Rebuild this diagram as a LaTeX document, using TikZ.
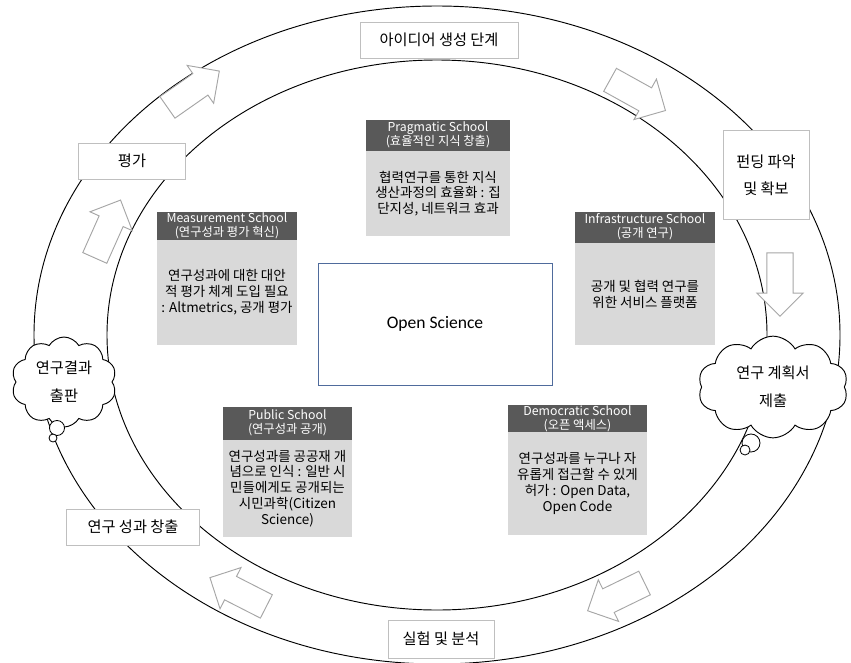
\documentclass[tikz,border=0pt]{standalone}
\usepackage{fontspec}
\setmainfont{Noto Sans CJK KR}
\newfontfamily\latinfont{Carlito}
\usetikzlibrary{positioning,shapes.symbols,shapes.arrows,shadows}

\definecolor{headgray}{HTML}{595959}
\definecolor{bodygray}{HTML}{D9D9D9}
\definecolor{boxline}{HTML}{BFBFBF}
\definecolor{osblue}{HTML}{4F6B9C}
\definecolor{arrowgray}{HTML}{A6A6A6}

\tikzset{
  stage/.style={draw=boxline, line width=0.8pt, fill=white, align=center, inner sep=0pt,
    font=\fontsize{13}{23}\selectfont},
  thought/.style={cloud, cloud puffs=10, cloud puff arc=120, cloud ignores aspect,
    draw=black, line width=0.8pt, fill=white, align=center, inner sep=0pt,
    font=\fontsize{13}{24}\selectfont},
  bubble/.style={circle, draw=black, line width=0.7pt, fill=white, inner sep=0pt},
  flow/.style={single arrow, draw=arrowgray, line width=0.8pt, fill=white,
    minimum height=1.9cm, inner xsep=0pt, inner ysep=0.38cm, single arrow head extend=0.3cm},
  schoolhead/.style={fill=headgray, text=white, align=center, inner sep=0pt,
    font=\fontsize{10.5}{12}\selectfont},
  schoolbody/.style={fill=bodygray, align=center, inner sep=0pt,
    font=\fontsize{11.5}{13.5}\selectfont},
}

\begin{document}
\begin{tikzpicture}[x=0.03cm, y=-0.03cm]
\useasboundingbox (0,0) rectangle (851,662);
%center of the cycle
\coordinate (O) at (437,335);
%draw the two rings
\draw [line width=0.8pt] (O) ellipse [x radius=403, y radius=329];
\draw [line width=0.8pt] (O) ellipse [x radius=330, y radius=275];

%arrows between the rings
\node [flow, rotate=35] (arrTL) at (188,93) {};
\node [flow, rotate=-29] (arrTR) at (632,92) {};
\node [flow, rotate=-90] (arrR) at (780,278) {};
\node [flow, rotate=206] (arrBR) at (622,594) {};
\node [flow, rotate=153] (arrBL) at (244,595) {};
\node [flow, rotate=66] (arrL) at (105,235) {};

%stages on the ring
\node [stage, minimum width=4.74cm, minimum height=1.08cm] (idea) at (439,40) {아이디어 생성 단계};
\node [stage, minimum width=2.58cm, minimum height=2.67cm] (fund) at (766,175) {펀딩 파악\\및 확보};
\node [stage, minimum width=3.18cm, minimum height=1.14cm] (exper) at (441,639) {실험 및 분석};
\node [stage, minimum width=3.99cm, minimum height=1.08cm] (result) at (133,527) {연구 성과 창출};
\node [stage, minimum width=3.21cm, minimum height=1.08cm] (eval) at (132,161) {평가};

%clouds
\node [thought, minimum width=4.5cm, minimum height=3.05cm] (plan) at (773,387) {연구 계획서\\제출};
\node [bubble, minimum size=0.54cm] (planB1) at (751,443) {};
\node [bubble, minimum size=0.3cm] (planB2) at (745,450) {};
\node [thought, minimum width=3.15cm, minimum height=2.7cm] (publish) at (64,382) {연구결과\\출판};
\node [bubble, minimum size=0.45cm] (pubB1) at (57,428) {};
\node [bubble, minimum size=0.24cm] (pubB2) at (53,438) {};

%open science in the middle
\node [draw=osblue, line width=0.8pt, fill=white, minimum width=7.02cm, minimum height=3.66cm,
  drop shadow={shadow xshift=1.2pt, shadow yshift=-1.2pt, opacity=0.4},
  font=\latinfont\fontsize{15}{18}\selectfont] (os) at (435,324) {Open Science};

%schools
\node [schoolbody, minimum width=4.32cm, minimum height=2.55cm] (pragBody) at (438,193.5)
  {협력연구를 통한 지식\\생산과정의 효율화 : 집\\단지성, 네트워크 효과};
\node [schoolhead, minimum width=4.32cm, minimum height=0.93cm, above=0pt of pragBody] (pragHead)
  {Pragmatic School\\(효율적인 지식 창출)};

\node [schoolbody, minimum width=4.2cm, minimum height=3.15cm] (measBody) at (227,292.5)
  {연구성과에 대한 대안\\적 평가 체계 도입 필요\\: Altmetrics, 공개 평가};
\node [schoolhead, minimum width=4.2cm, minimum height=0.84cm, above=0pt of measBody] (measHead)
  {Measurement School\\(연구성과 평가 혁신)};

\node [schoolbody, minimum width=4.2cm, minimum height=3.06cm] (infraBody) at (645,294)
  {공개 및 협력 연구를\\위한 서비스 플랫폼};
\node [schoolhead, minimum width=4.2cm, minimum height=0.93cm, above=0pt of infraBody] (infraHead)
  {Infrastructure School\\(공개 연구)};

\node [schoolbody, minimum width=3.87cm, minimum height=2.91cm] (pubBody) at (287.5,488.5)
  {연구성과를 공공재 개\\념으로 인식 : 일반 시\\민들에게도 공개되는\\시민과학(Citizen\\Science)};
\node [schoolhead, minimum width=3.87cm, minimum height=0.99cm, above=0pt of pubBody] (pubHead)
  {Public School\\(연구성과 공개)};

\node [schoolbody, minimum width=4.17cm, minimum height=3.09cm] (demoBody) at (577.5,483.5)
  {연구성과를 누구나 자\\유롭게 접근할 수 있게\\허가 : Open Data,\\Open Code};
\node [schoolhead, minimum width=4.17cm, minimum height=0.75cm, above=0pt of demoBody] (demoHead)
  {Democratic School\\(오픈 액세스)};
\end{tikzpicture}
\end{document}
